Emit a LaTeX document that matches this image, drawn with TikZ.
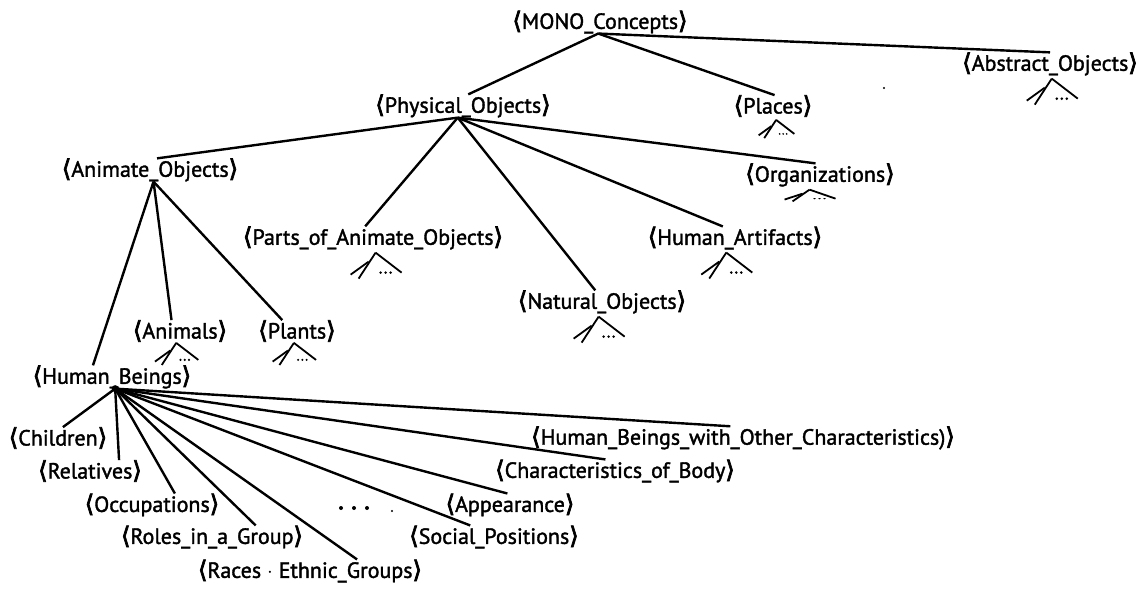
\documentclass[tikz,border=0pt]{standalone}
\usepackage{fontspec}
\setmainfont{PT Sans}
\newfontfamily\cptfont{PT Sans}[FakeBold=1.6]
\newfontfamily\brkfont{DejaVu Sans}[FakeBold=3]
\usetikzlibrary{calc}

\tikzstyle{concept}=[inner sep=0pt, font=\fontsize{22}{24}\cptfont]
\tikzstyle{branch}=[line width=2.4pt]
\tikzstyle{twig}=[line width=1.8pt]
\newcommand{\cpt}[1]{{\brkfont\fontsize{24}{24}\selectfont ⟨}#1{\brkfont\fontsize{24}{24}\selectfont ⟩}}

\tikzset{subtree/.pic={
  \draw[twig] (0,0) -- (-17,26);
  \draw[twig] (0,0) -- (26,20);
  \draw[twig] (-25,22) -- (-7,9);
  \fill (5,20) circle (1.4pt) (10,20) circle (1.4pt) (15,20) circle (1.4pt);
}}

\begin{document}
\begin{tikzpicture}[x=1pt, y=-1pt]
\useasboundingbox (0,0) rectangle (1147,592);

\node[concept](mono) at (600, 22) {\cpt{MONO\_Concepts}};
\node[concept](phys) at (463, 106) {\cpt{Physical\_Objects}};
\node[concept](places) at (773, 106) {\cpt{Places}};
\node[concept](abs) at (1050, 64) {\cpt{Abstract\_Objects}};

\node[concept](anim) at (150, 170) {\cpt{Animate\_Objects}};
\node[concept](org) at (820, 175) {\cpt{Organizations}};
\node[concept](parts) at (373, 238) {\cpt{Parts\_of\_Animate\_Objects}};
\node[concept](artif) at (735, 238) {\cpt{Human\_Artifacts}};
\node[concept](natural) at (602, 302) {\cpt{Natural\_Objects}};
\node[concept](animals) at (180, 331) {\cpt{Animals}};
\node[concept](plants) at (297, 331) {\cpt{Plants}};

\node[concept](hb) at (112, 377) {\cpt{Human\_Beings}};
\node[concept](children) at (58, 438) {\cpt{Children}};
\node[concept](relatives) at (90, 471) {\cpt{Relatives}};
\node[concept](occup) at (152, 505) {\cpt{Occupations}};
\node[concept](roles) at (212, 537) {\cpt{Roles\_in\_a\_Group}};
\node[concept](races) at (310, 571) {\cpt{Races $\cdot$ Ethnic\_Groups}};
\node[concept](social) at (494, 537) {\cpt{Social\_Positions}};
\node[concept](appear) at (510, 505) {\cpt{Appearance}};
\node[concept](charbody) at (615, 471) {\cpt{Characteristics\_of\_Body}};
\node[concept](hbother) at (743, 438) {\cpt{Human\_Beings\_with\_Other\_Characteristics)}};

% top level
\begin{scope}[every path/.style={branch}]
  \draw ($(mono.south west)!.49!(mono.south east)$) -- ($(phys.north west)!.53!(phys.north east)$);
  \draw ($(mono.south west)!.49!(mono.south east)$) -- ($(places.north west)!.52!(places.north east)$);
  \draw ($(mono.south west)!.49!(mono.south east)$) -- ($(abs.north west)!.50!(abs.north east)$);

  \draw ($(phys.south west)!.47!(phys.south east)$) -- ($(anim.north west)!.54!(anim.north east)$);
  \draw ($(phys.south west)!.47!(phys.south east)$) -- ($(parts.north west)!.47!(parts.north east)$);
  \draw ($(phys.south west)!.47!(phys.south east)$) -- ($(natural.north west)!.46!(natural.north east)$);
  \draw ($(phys.south west)!.47!(phys.south east)$) -- ($(artif.north west)!.43!(artif.north east)$);
  \draw ($(phys.south west)!.47!(phys.south east)$) -- ($(org.north west)!.47!(org.north east)$);

  \draw ($(anim.south west)!.52!(anim.south east)$) -- ($(hb.north west)!.38!(hb.north east)$);
  \draw ($(anim.south west)!.52!(anim.south east)$) -- ($(animals.north west)!.41!(animals.north east)$);
  \draw ($(anim.south west)!.52!(anim.south east)$) -- ($(plants.north west)!.31!(plants.north east)$);
\end{scope}

% human beings fan
\coordinate (hbj) at ($(hb.south west)!.52!(hb.south east)$);
\begin{scope}[every path/.style={branch}]
  \draw (hbj) -- ($(children.north west)!.55!(children.north east)$);
  \draw (hbj) -- ($(relatives.north west)!.78!(relatives.north east)$);
  \draw (hbj) -- ($(occup.north west)!.67!(occup.north east)$);
  \draw (hbj) -- ($(roles.north west)!.74!(roles.north east)$);
  \draw (hbj) -- ($(races.north west)!.71!(races.north east)$);
  \draw (hbj) -- ($(social.north west)!.36!(social.north east)$);
  \draw (hbj) -- ($(appear.north west)!.48!(appear.north east)$);
  \draw (hbj) -- ($(charbody.north west)!.46!(charbody.north east)$);
  \draw (hbj) -- ($(hbother.north west)!.47!(hbother.north east)$);
\end{scope}
\fill (hbj) circle (3.5pt);

% collapsed subtrees
\pic[scale=0.7] at ($(places.south west)!.54!(places.south east)+(0,3)$) {subtree};
\pic at ($(abs.south west)!.51!(abs.south east)+(0,3)$) {subtree};
\pic[yscale=0.45] at ($(org.south west)!.43!(org.south east)+(0,3)$) {subtree};
\pic at ($(parts.south west)!.51!(parts.south east)+(0,3)$) {subtree};
\pic at ($(artif.south west)!.45!(artif.south east)+(0,3)$) {subtree};
\pic at ($(natural.south west)!.48!(natural.south east)+(0,3)$) {subtree};
\pic[scale=0.85] at ($(animals.south west)!.46!(animals.south east)+(0,1)$) {subtree};
\pic[scale=0.85] at ($(plants.south west)!.46!(plants.south east)+(0,1)$) {subtree};

% ellipsis between the fan leaves
\fill (341,508) circle (2pt) (354,508) circle (2pt) (367,508) circle (2pt);
\fill (392,511) circle (1.2pt);
\fill (884,88) circle (1.2pt);
\end{tikzpicture}
\end{document}
